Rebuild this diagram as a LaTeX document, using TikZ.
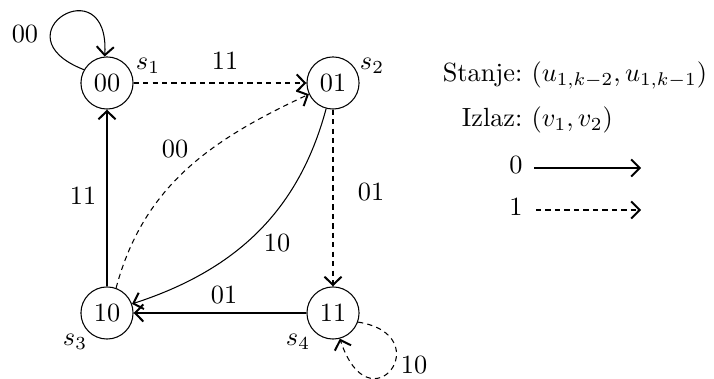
\documentclass[tikz,border=0pt]{standalone}
\usetikzlibrary{arrows.meta}
\begin{document}
\begin{tikzpicture}[x=0.38pt,y=-0.38pt,
  state/.style={circle,draw,minimum size=19.8pt,inner sep=0pt},
  tip/.style={-{Straight Barb[length=3.2pt,width=6.5pt,line width=0.75pt]}},
  dsh/.style={dash pattern=on 2pt off 1.6pt},
  lbl/.style={inner sep=1pt},
  keyl/.style={anchor=base east,inner sep=0pt},
  keyr/.style={anchor=base west,inner sep=0pt}]
\useasboundingbox (0,0) rectangle (714,379);
\node[state] (s1) at (107,83) {00};
\node[state] (s2) at (333,83) {01};
\node[state] (s3) at (107,313) {10};
\node[state] (s4) at (333,313) {11};
\node[lbl] (n1) at (148,66) {$s_1$};
\node[lbl] (n2) at (372,66) {$s_2$};
\node[lbl] (n3) at (75,342) {$s_3$};
\node[lbl] (n4) at (298,342) {$s_4$};
% loops
\draw[tip] (s1.150) .. controls (-5,35) and (110,-35) .. (s1.95);
\node[lbl] (l1) at (25,34) {00};
\draw[tip,dsh] (s4.-20) .. controls (440,335) and (370,430) .. (s4.-75);
\node[lbl] (l2) at (414,365) {10};
% edges
\draw[tip,dsh] (s1) -- (s2);
\node[lbl] (l3) at (225,61) {11};
\draw[tip,dsh] (s2) -- (s4);
\node[lbl] (l4) at (371,192) {01};
\draw[tip] (s4) -- (s3);
\node[lbl] (l5) at (224,295) {01};
\draw[tip] (s3) -- (s1);
\node[lbl] (l6) at (83,196) {11};
\draw[tip,dsh] (s3.70) to[out=75,in=205] (s2.205);
\node[lbl] (l7) at (175,149) {00};
\draw[tip] (s2.-105) to[out=-105,in=18] (s3.20);
\node[lbl] (l8) at (277,243) {10};
% legend
\node[keyl] (t1) at (523,82) {Stanje:};
\node[keyr] (u1) at (531,82) {$(u_{1,k-2},u_{1,k-1})$};
\node[keyl] (t2) at (523,127) {Izlaz:};
\node[keyr] (u2) at (531,127) {$(v_1,v_2)$};
\node[keyl] (z0) at (523,174) {0};
\node[keyl] (z1) at (523,216) {1};
\coordinate (a0) at (534,168);
\coordinate (b0) at (641,168);
\coordinate (a1) at (536,210);
\coordinate (b1) at (641,210);
\draw[tip] (a0) -- (b0);
\draw[tip,dsh] (a1) -- (b1);
\end{tikzpicture}
\end{document}
